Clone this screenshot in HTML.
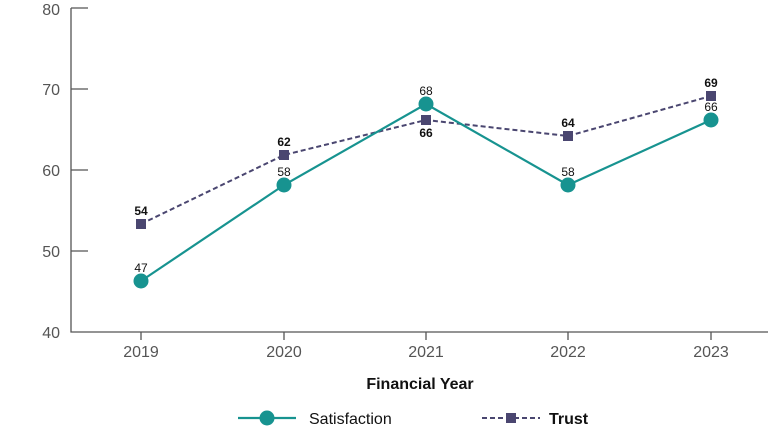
<!DOCTYPE html><html><head><style>body{margin:0;background:#fff}svg{display:block;font-family:"Liberation Sans",sans-serif}</style></head><body>
<svg width="768" height="440" xmlns="http://www.w3.org/2000/svg">
<g stroke="#555" stroke-width="1.3" fill="none">
<path d="M71,8V332H768"/>
<path d="M71,8H88M71,89H88M71,170H88M71,251H88"/>
<path d="M141,332V340M284,332V340M426,332V340M568,332V340M711,332V340"/>
</g>
<g fill="#555" font-size="16" text-anchor="end"><text x="60" y="15">80</text><text x="60" y="95">70</text><text x="60" y="176">60</text><text x="60" y="257">50</text><text x="60" y="338">40</text></g>
<g fill="#555" font-size="16" text-anchor="middle"><text x="141" y="357">2019</text><text x="284" y="357">2020</text><text x="426" y="357">2021</text><text x="568" y="357">2022</text><text x="711" y="357">2023</text></g>
<text x="420" y="389" font-size="16" font-weight="bold" text-anchor="middle" fill="#111">Financial Year</text>
<polyline points="141,224 284,155 426,120 568,136 711,96" fill="none" stroke="#4a4670" stroke-width="2" stroke-dasharray="5,3"/>
<g fill="#4a4670"><rect x="136" y="219" width="10" height="10"/><rect x="279" y="150" width="10" height="10"/><rect x="421" y="115" width="10" height="10"/><rect x="563" y="131" width="10" height="10"/><rect x="706" y="91" width="10" height="10"/></g>
<polyline points="141,281 284,185 426,104 568,185 711,120" fill="none" stroke="#179390" stroke-width="2.2"/>
<g fill="#179390"><circle cx="141" cy="281" r="7.5"/><circle cx="284" cy="185" r="7.5"/><circle cx="426" cy="104" r="7.5"/><circle cx="568" cy="185" r="7.5"/><circle cx="711" cy="120" r="7.5"/></g>
<g font-size="12" text-anchor="middle" fill="#111"><text x="141" y="272">47</text><text x="284" y="176">58</text><text x="426" y="95">68</text><text x="568" y="176">58</text><text x="711" y="111">66</text></g>
<g font-size="12" font-weight="bold" text-anchor="middle" fill="#111"><text x="141" y="215">54</text><text x="284" y="146">62</text><text x="426" y="137">66</text><text x="568" y="127">64</text><text x="711" y="87">69</text></g>
<line x1="238" y1="418" x2="296" y2="418" stroke="#179390" stroke-width="2.2"/><circle cx="267" cy="418" r="7.5" fill="#179390"/>
<text x="309" y="424" font-size="16" fill="#111">Satisfaction</text>
<line x1="482" y1="418" x2="540" y2="418" stroke="#4a4670" stroke-width="2" stroke-dasharray="5,3"/><rect x="506" y="413" width="10" height="10" fill="#4a4670"/>
<text x="549" y="424" font-size="16" font-weight="bold" fill="#111">Trust</text>
</svg></body></html>
